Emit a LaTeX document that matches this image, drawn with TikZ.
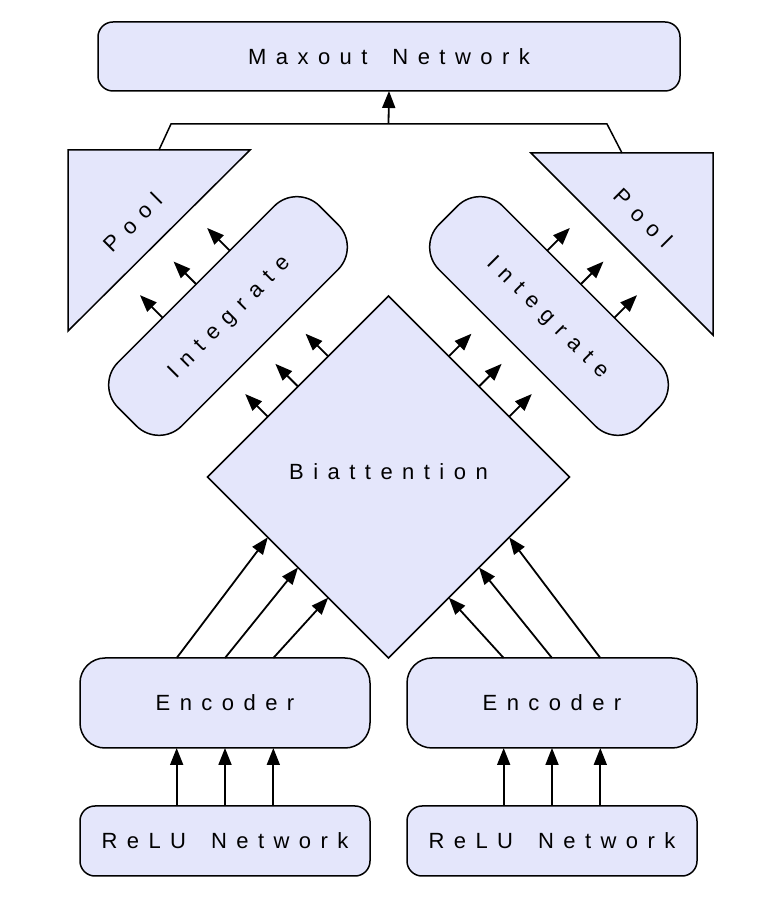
\documentclass[tikz,border=0pt]{standalone}
\usepackage{fontspec}
\setmainfont{Liberation Sans}
\newfontfamily\lsfont[LetterSpace=43,WordSpace=1.6]{Liberation Sans}
\usetikzlibrary{arrows.meta,shapes.geometric,calc}
\definecolor{boxfill}{RGB}{228,230,251}
\begin{document}
\begin{tikzpicture}[x=1pt,y=1pt,
  lbl/.style={font=\lsfont\fontsize{22}{26}\selectfont, text height=15.8pt, text depth=0pt, inner sep=0pt, outer sep=0pt},
  box/.style={lbl, draw=black, line width=1.5pt, fill=boxfill},
  arr/.style={line width=1.8pt, -{Triangle[length=17pt,width=13pt]}},
  wire/.style={line width=1.5pt},
]
\useasboundingbox (0,0) rectangle (772,900);

% boxes
\node[box, rounded corners=15pt, minimum width=582pt, minimum height=69pt] (maxout) at (389,843.5) {Maxout Network};
\node[box, rounded corners=15pt, minimum width=290pt, minimum height=70pt] (reluL) at (225,59) {ReLU Network};
\node[box, rounded corners=15pt, minimum width=290pt, minimum height=70pt] (reluR) at (552,59) {ReLU Network};
\node[box, rounded corners=25pt, minimum width=290pt, minimum height=90pt] (encL) at (225,197) {Encoder};
\node[box, rounded corners=25pt, minimum width=290pt, minimum height=90pt] (encR) at (552,197) {Encoder};
\node[box, diamond, aspect=1, minimum width=362pt, minimum height=362pt, text depth=10pt] (biatt) at (388.5,423) {Biattention};
\node[box, rounded corners=32pt, minimum width=285pt, minimum height=90pt, rotate=45] (intL) at (228,584) {Integrate};
\node[box, rounded corners=32pt, minimum width=285pt, minimum height=90pt, rotate=-45] (intR) at (549,584) {Integrate};

% pools
\draw[wire, fill=boxfill] (68,750) coordinate (poolLa) -- (250,750) coordinate (poolLb) -- (68,569) coordinate (poolLc) -- cycle;
\draw[wire, fill=boxfill] (531,747) coordinate (poolRa) -- (713,747) coordinate (poolRb) -- (713,565) coordinate (poolRc) -- cycle;
\node[lbl, rotate=45] (poolLtext) at (133,678) {Pool};
\node[lbl, rotate=-45] (poolRtext) at (643,682) {Pool};

% pool to maxout
\coordinate (poolLtop) at (159,750);
\coordinate (poolRtop) at (622,747);
\coordinate (join) at (388.5,776);
\draw[wire] (poolLtop) -- (171,776) -- (607,776) -- (poolRtop);
\draw[arr] (join) -- (maxout.south);

% relu -> encoder, encoder -> biattention
\foreach \f in {1/3,1/2,2/3} {
  \draw[arr] ($(reluL.north west)!\f!(reluL.north east)$) -- ($(encL.south west)!\f!(encL.south east)$);
  \draw[arr] ($(reluR.north west)!\f!(reluR.north east)$) -- ($(encR.south west)!\f!(encR.south east)$);
  \draw[arr] ($(encL.north west)!\f!(encL.north east)$) -- ($(biatt.west)!\f!(biatt.south)$);
  \draw[arr] ($(encR.north west)!\f!(encR.north east)$) -- ($(biatt.south)!\f!(biatt.east)$);
  \path ($(biatt.west)!\f!(biatt.north)$) coordinate (pa);
  \draw[arr] (pa) -- ($(pa)!32pt!90:(biatt.north)$);
  \path ($(biatt.north)!\f!(biatt.east)$) coordinate (pb);
  \draw[arr] (pb) -- ($(pb)!32pt!90:(biatt.east)$);
  \path ($(intL.north west)!\f!(intL.north east)$) coordinate (pc);
  \draw[arr] (pc) -- ($(pc)!32pt!90:(intL.north east)$);
  \path ($(intR.north west)!\f!(intR.north east)$) coordinate (pd);
  \draw[arr] (pd) -- ($(pd)!32pt!90:(intR.north east)$);
}
\end{tikzpicture}
\end{document}
